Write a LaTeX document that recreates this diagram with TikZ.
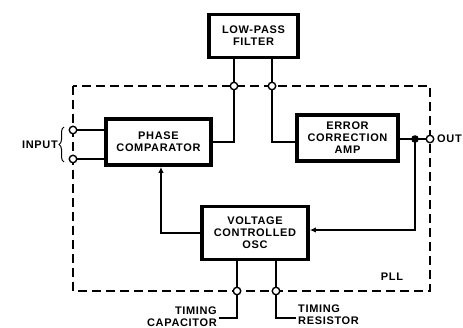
\documentclass[tikz,border=0pt]{standalone}
\usepackage{fontspec}
\setmainfont{Liberation Sans}[LetterSpace=6]
\usetikzlibrary{arrows.meta,decorations.pathreplacing}
\begin{document}
\begin{tikzpicture}[x=1pt,y=-1pt,
  every node/.style={font=\fontsize{11}{12}\selectfont\bfseries},
  blockbox/.style={draw, line width=3.8pt, fill=white, align=center, inner sep=0pt},
  term/.style={circle, draw, fill=white, line width=1.4pt, minimum size=7.5pt, inner sep=0pt},
  wire/.style={line width=2.4pt},
  arr/.style={wire, -{Latex[length=6pt,width=5.5pt]}},
  lbl/.style={align=center, inner sep=0pt}]
\useasboundingbox (0,0) rectangle (463,328);
% PLL boundary
\draw[line width=1.5pt, dash pattern=on 9pt off 5pt] (73,86) rectangle (430,291);
% blocks
\node[blockbox, minimum width=89pt, minimum height=43pt] (lpf) at (253.5,36) {LOW-PASS\\FILTER};
\node[blockbox, minimum width=105pt, minimum height=46pt] (pc) at (158.5,142) {PHASE\\COMPARATOR};
\node[blockbox, minimum width=101pt, minimum height=46pt] (eca) at (347.5,138) {ERROR\\CORRECTION\\AMP};
\node[blockbox, minimum width=106pt, minimum height=53pt] (vco) at (255,233) {VOLTAGE\\CONTROLLED\\OSC};
% terminals
\node[term] (t1) at (234,86) {};
\node[term] (t2) at (272,86) {};
\node[term] (in1) at (73,130) {};
\node[term] (in2) at (73,159) {};
\node[term] (out) at (430,139) {};
\node[term] (tc) at (237,291) {};
\node[term] (tr) at (276,291) {};
\fill (415,139) circle (3.8pt) coordinate (dot);
\coordinate (capend) at (219,318);
\coordinate (resend) at (296,318);
% wires
\draw[wire] (lpf.south -| t1) -- (t1);
\draw[wire] (lpf.south -| t2) -- (t2);
\draw[wire] (t1) |- (pc.east);
\draw[wire] (t2) |- (eca.west |- 0,142);
\draw[wire] (in1) -- (in1 -| pc.west);
\draw[wire] (in2) -- (in2 -| pc.west);
\draw[wire] (eca.east |- dot) -- (dot) -- (out);
\draw[arr] (dot) |- (vco.east |- 0,230);
\draw[arr] (vco.west) -| ([xshift=2.5pt]pc.south);
\draw[wire] (vco.south -| tc) -- (tc);
\draw[wire] (vco.south -| tr) -- (tr);
\draw[wire] (tc) |- (capend);
\draw[wire] (tr) |- (resend);
% brace
\draw[line width=1pt, decorate, decoration={brace, amplitude=5pt}] (64,162) -- (64,127);
% labels
\node[lbl, anchor=east] (inputlbl) at (58,145) {INPUT};
\node[lbl, anchor=west] (outlbl) at (437,139) {OUT};
\node[lbl] (plllbl) at (392,277) {PLL};
\node[lbl, anchor=east, align=right] (caplbl) at (217,317) {TIMING\\CAPACITOR};
\node[lbl, anchor=west, align=left] (reslbl) at (298,315) {TIMING\\RESISTOR};
\end{tikzpicture}
\end{document}
